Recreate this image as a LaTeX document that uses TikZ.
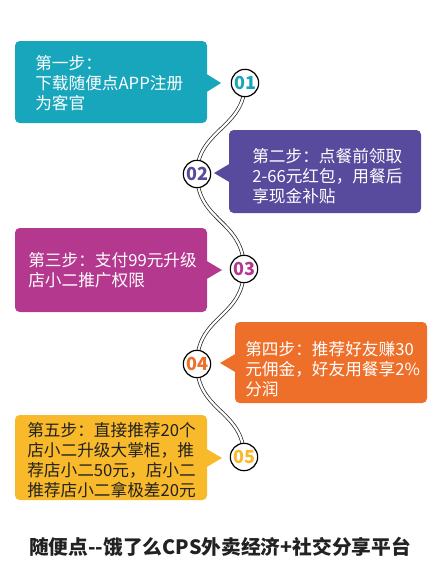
\documentclass[tikz,border=0pt]{standalone}
\usepackage{fontspec}
\setmainfont{Noto Sans CJK SC}
\definecolor{cteal}{HTML}{17A6BB}
\definecolor{cpurple}{HTML}{584A9C}
\definecolor{cmagenta}{HTML}{B5388F}
\definecolor{corange}{HTML}{EE6F2A}
\definecolor{cyellow}{HTML}{F8B92A}
\definecolor{ctitle}{HTML}{222222}
\tikzset{
  card/.style={rectangle, rounded corners=3.5pt, inner sep=0pt, minimum width=144pt},
  cardtext/.style={anchor=west, align=left, inner sep=0pt, font={\fontsize{12.5}{15}\selectfont}},
  stepnum/.style={circle, draw=black, fill=white, line width=0.9pt, minimum size=20.5pt, inner sep=0pt, font={\bfseries\fontsize{13.5}{14}\selectfont}},
  road/.style={draw=black!85, line width=0.55pt, double=white, double distance=1.7pt},
}
\begin{document}
\begin{tikzpicture}[x=0.75pt,y=-0.75pt]
\useasboundingbox (0,0) rectangle (441,582);
\fill[white] (0,0) rectangle (441,582);
% cards
\node[card, fill=cteal, minimum height=61.5pt] (b1) at (111,82) {};
\fill[cteal] (205,73) -- (221,83) -- (205,93) -- cycle;
\node[card, fill=cpurple, minimum height=62.25pt] (b2) at (325,171.5) {};
\fill[cpurple] (231,163) -- (214,173) -- (231,183) -- cycle;
\node[card, fill=cmagenta, minimum height=63pt] (b3) at (111,270) {};
\fill[cmagenta] (205,260) -- (222,270) -- (205,280) -- cycle;
\node[card, fill=corange, minimum height=60.75pt] (b4) at (331,362.5) {};
\fill[corange] (237,353) -- (220,363) -- (237,373) -- cycle;
\node[card, fill=cyellow, minimum height=63.75pt] (b5) at (111,457.5) {};
\fill[cyellow] (205,448) -- (222,458) -- (205,468) -- cycle;
% texts
\node[cardtext, text=white] (t1) at (35,83) {第一步：\\下载随便点APP注册\\为客官};
\node[cardtext, text=white] (t2) at (252,176) {第二步：点餐前领取\\2-66元红包，用餐后\\享现金补贴};
\node[cardtext, text=white] (t3) at (28,270) {第三步：支付99元升级\\店小二推广权限};
\node[cardtext, text=white] (t4) at (245,369) {第四步：推荐好友赚30\\元佣金，好友用餐享2\%\\分润};
\node[cardtext, text=ctitle] (t5) at (27,460) {第五步：直接推荐20个\\店小二升级大掌柜，推\\荐店小二50元，店小二\\推荐店小二拿极差20元};
% circles
\coordinate (p1) at (245,83);
\coordinate (p2) at (197,174);
\coordinate (p3) at (244,269);
\coordinate (p4) at (197,364);
\coordinate (p5) at (244,457);
\draw[road] (p1) .. controls (245,128) and (197,130) .. (p2);
\draw[road] (p2) .. controls (197,222) and (244,220) .. (p3);
\draw[road] (p3) .. controls (244,318) and (197,315) .. (p4);
\draw[road] (p4) .. controls (197,412) and (244,410) .. (p5);
\node[stepnum, text=cteal] (n1) at (p1) {01};
\node[stepnum, text=cpurple] (n2) at (p2) {02};
\node[stepnum, text=cmagenta] (n3) at (p3) {03};
\node[stepnum, text=corange] (n4) at (p4) {04};
\node[stepnum, text=cyellow] (n5) at (p5) {05};
% title
\node[inner sep=0pt, text=ctitle, font={\bfseries\fontsize{14.8}{16}\selectfont}] (title) at (220,547) {随便点-{}-饿了么CPS外卖经济+社交分享平台};
\end{tikzpicture}
\end{document}
